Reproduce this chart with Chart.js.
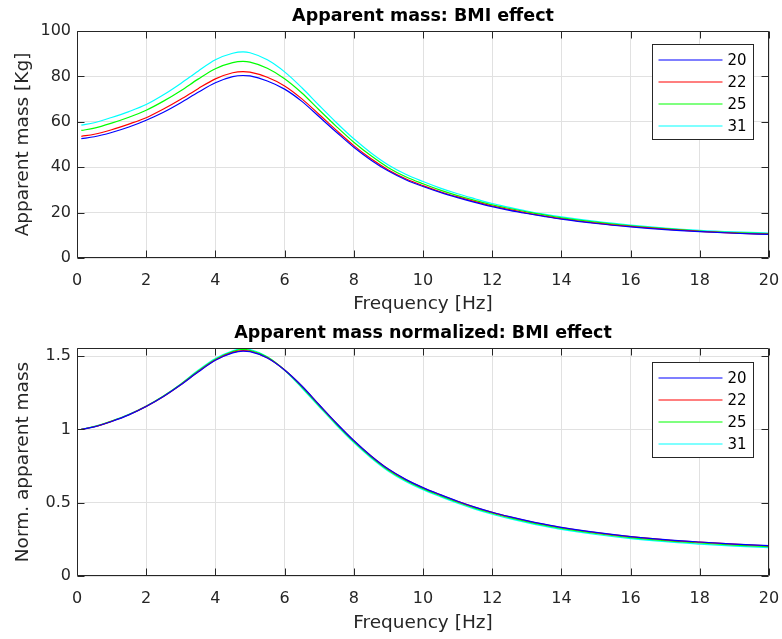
<!DOCTYPE html>
<html><head><meta charset="utf-8">
<script src="https://cdn.jsdelivr.net/npm/chart.js@4.4.0/dist/chart.umd.min.js"></script>
<style>
html,body{margin:0;padding:0;background:#fff;}
#w1{position:absolute;left:0;top:0;width:782px;height:320px;}
#w2{position:absolute;left:0;top:320px;width:782px;height:319px;}
</style></head><body>
<div id="w1"><canvas id="c1"></canvas></div>
<div id="w2"><canvas id="c2"></canvas></div>
<script>
// ---- data ----
const freq = [0.125,0.5,1,1.5,2,2.5,3,3.5,4,4.5,4.8,5,5.5,6,6.5,7,7.5,8,8.5,9,9.5,10,10.5,11,11.5,12,12.5,13,13.5,14,15,16,17,18,19,20];
const bmiLabels = ['20','22','25','31'];

const mass20 = [52.6,53.4,55.3,57.7,60.7,64.2,68.4,73.0,77.2,79.9,80.4,80.2,78.0,74.4,69.0,62.2,55.4,48.8,43.1,38.3,34.5,31.5,28.9,26.6,24.5,22.6,21.0,19.6,18.3,17.1,15.2,13.7,12.5,11.6,10.9,10.4];
const mass22 = [53.6,54.5,56.5,59.0,61.8,65.6,69.9,74.6,78.9,81.6,82.1,81.9,79.6,75.8,70.1,63.2,56.2,49.5,43.7,38.8,34.9,31.9,29.2,26.9,24.8,22.9,21.3,19.8,18.5,17.3,15.4,13.9,12.7,11.7,11.0,10.5];
const mass25 = [56.2,57.2,59.4,62.0,65.1,69.1,73.7,78.8,83.4,86.1,86.6,86.3,83.6,79.0,72.7,65.2,57.9,51.0,45.0,39.8,35.8,32.7,29.9,27.5,25.4,23.4,21.8,20.3,19.0,17.7,15.8,14.2,12.9,11.9,11.2,10.7];
const mass31 = [58.5,59.6,61.9,64.5,67.6,71.9,76.9,82.3,87.3,90.2,90.8,90.4,87.3,82.0,75.0,67.2,59.6,52.5,46.3,41.0,36.9,33.7,30.8,28.3,26.1,24.0,22.3,20.7,19.3,18.1,16.1,14.5,13.2,12.2,11.5,11.0];

const norm20 = [1.000,1.017,1.054,1.099,1.156,1.224,1.304,1.391,1.471,1.522,1.534,1.530,1.487,1.405,1.296,1.168,1.042,0.924,0.819,0.729,0.659,0.603,0.555,0.510,0.470,0.435,0.405,0.378,0.354,0.332,0.297,0.269,0.248,0.232,0.218,0.207];
const norm22 = [1.000,1.018,1.055,1.100,1.157,1.225,1.305,1.393,1.473,1.525,1.537,1.533,1.488,1.405,1.295,1.167,1.041,0.923,0.818,0.728,0.658,0.602,0.554,0.509,0.469,0.434,0.404,0.377,0.353,0.331,0.296,0.268,0.247,0.231,0.217,0.206];
const norm25 = [1.000,1.019,1.056,1.101,1.158,1.227,1.308,1.398,1.478,1.530,1.545,1.539,1.493,1.405,1.289,1.161,1.035,0.917,0.812,0.722,0.652,0.596,0.548,0.503,0.463,0.428,0.398,0.371,0.347,0.325,0.290,0.262,0.241,0.225,0.211,0.200];
const norm31 = [1.000,1.020,1.057,1.102,1.159,1.228,1.310,1.403,1.483,1.535,1.553,1.545,1.496,1.403,1.282,1.154,1.028,0.910,0.805,0.715,0.645,0.589,0.541,0.496,0.456,0.421,0.391,0.364,0.340,0.318,0.283,0.255,0.234,0.218,0.204,0.193];

const xTicks = [0,2,4,6,8,10,12,14,16,18,20];
const massTicks = [0,20,40,60,80,100];
const normTicks = [0,0.5,1,1.5];

// ---- styling ----
const seriesColors = ['#0000ff','#ff0000','#00ff00','#00ffff'];
const FONT = "'DejaVu Sans', sans-serif";
const AX = '#262626';
const GRID = '#e1e1e1';

const boxPlugin = {
  id: 'matlabBox',
  afterDatasetsDraw(chart, args, opts) {
    const {ctx, chartArea: a, scales: {x, y}} = chart;
    ctx.save();
    ctx.strokeStyle = AX; ctx.lineWidth = 1;
    const L = Math.round(a.left) + 0.5, R = Math.round(a.right) - 0.5;
    const T = Math.round(a.top) + 0.5, B = Math.round(a.bottom) - 0.5;
    ctx.beginPath();
    ctx.rect(L, T, R - L, B - T);
    const tl = 7;
    x.ticks.forEach(t => {
      const px = Math.round(x.getPixelForValue(t.value)) + 0.5;
      ctx.moveTo(px, B); ctx.lineTo(px, B - tl);
      ctx.moveTo(px, T); ctx.lineTo(px, T + tl);
    });
    y.ticks.forEach(t => {
      const py = Math.round(y.getPixelForValue(t.value)) + 0.5;
      ctx.moveTo(L, py); ctx.lineTo(L + tl, py);
      ctx.moveTo(R, py); ctx.lineTo(R - tl, py);
    });
    ctx.stroke();
    // legend box
    const w = 101, h = 95;
    const bx = Math.round(a.right - opts.right - w) + 0.5;
    const by = Math.round(a.top + opts.top) + 0.5;
    ctx.fillStyle = '#fff';
    ctx.fillRect(bx, by, w, h);
    ctx.strokeStyle = AX; ctx.lineWidth = 1;
    ctx.strokeRect(bx, by, w, h);
    ctx.font = "15px " + FONT;
    ctx.textBaseline = 'middle';
    ctx.textAlign = 'left';
    chart.data.datasets.forEach((ds, i) => {
      const ry = Math.round(by + 15 + i * 22.2);
      ctx.strokeStyle = seriesColors[i]; ctx.lineWidth = 1.2;
      ctx.beginPath(); ctx.moveTo(bx + 6, ry); ctx.lineTo(bx + 70, ry); ctx.stroke();
      ctx.fillStyle = '#000';
      ctx.fillText(ds.label, bx + 75, ry + 1);
    });
    ctx.restore();
  }
};

function makeDatasets(series) {
  return series.map((vals, i) => ({
    label: bmiLabels[i],
    data: freq.map((f, j) => ({x: f, y: vals[j]})),
    borderColor: seriesColors[i],
    backgroundColor: seriesColors[i],
    borderWidth: 1.2,
    pointRadius: 0,
    fill: false,
    cubicInterpolationMode: 'monotone'
  }));
}

function makeChart(id, series, yTicks, yMax, title, yTitle, xAxisH, titlePad, legendTop) {
  return new Chart(document.getElementById(id), {
    type: 'line',
    data: {datasets: makeDatasets(series)},
    plugins: [boxPlugin],
    options: {
      responsive: true, maintainAspectRatio: false, animation: false,
      layout: {padding: {left: 0, right: 13, top: 0, bottom: 0}},
      plugins: {
        legend: {display: false}, tooltip: {enabled: false},
        title: {display: true, text: title, fullSize: false, color: '#000',
          font: {family: FONT, size: 17.5, weight: 'bold', lineHeight: 1.2},
          padding: titlePad},
        matlabBox: {right: 16, top: legendTop}
      },
      scales: {
        x: {
          type: 'linear', min: 0, max: 20,
          afterBuildTicks: s => { s.ticks = xTicks.map(v => ({value: v})); },
          afterFit: s => { s.height = xAxisH; s.paddingLeft = 0; s.paddingRight = 0; },
          grid: {color: GRID, drawTicks: false, lineWidth: 1},
          border: {display: false},
          ticks: {color: AX, font: {family: FONT, size: 16}, padding: 13, maxRotation: 0,
            callback: v => String(v)},
          title: {display: true, text: 'Frequency [Hz]', color: AX,
            font: {family: FONT, size: 18.5, lineHeight: 1.2}, padding: {top: 0, bottom: 4.5}}
        },
        y: {
          type: 'linear', min: 0, max: yMax,
          afterBuildTicks: s => { s.ticks = yTicks.map(v => ({value: v})); },
          afterFit: s => { s.width = 77; s.paddingTop = 0; s.paddingBottom = 0; },
          grid: {color: GRID, drawTicks: false, lineWidth: 1},
          border: {display: false},
          ticks: {color: AX, font: {family: FONT, size: 16}, padding: 6,
            callback: v => String(v)},
          title: {display: true, text: yTitle, color: AX,
            font: {family: FONT, size: 18.5, lineHeight: 1.2}, padding: {top: 12, bottom: 0}}
        }
      }
    }
  });
}

makeChart('c1', [mass20, mass22, mass25, mass31], massTicks, 100,
  'Apparent mass: BMI effect', 'Apparent mass [Kg]', 62, {top: 6, bottom: 4}, 13);
makeChart('c2', [norm20, norm22, norm25, norm31], normTicks, 1.555,
  'Apparent mass normalized: BMI effect', 'Norm. apparent mass', 63, {top: 3, bottom: 4}, 14);
</script>
</body></html>
